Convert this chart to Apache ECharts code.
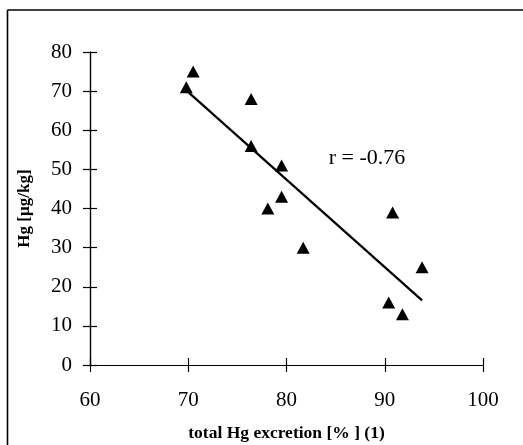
<!DOCTYPE html>
<html>
<head>
<meta charset="utf-8">
<script src="https://cdn.jsdelivr.net/npm/echarts@6/dist/echarts.min.js"></script>
<style>
  html, body { margin: 0; padding: 0; background: #fff; }
  #chart { width: 523px; height: 445px; }
</style>
</head>
<body>
<div id="chart"></div>
<script>
// Total Hg excretion (%) against Hg content (µg/kg)
const excretion = [70.5, 69.8, 76.4, 76.4, 79.5, 79.5, 78.1, 81.7, 90.8, 93.8, 90.4, 91.8];
const hgContent = [75, 71, 68, 56, 51, 43, 40, 30, 39, 25, 16, 13];

// Least-squares fit line, drawn between its two end points
const fitX = [69.8, 93.8];
const fitY = [70.2, 16.5];
const fitLabel = 'r = -0.76';
const fitLabelAt = [88.2, 52.8];

const xTicks = [60, 70, 80, 90, 100];
const yTicks = [0, 10, 20, 30, 40, 50, 60, 70, 80];

const serif = '"Liberation Serif", "Times New Roman", serif';

const points = excretion.map((x, i) => [x, hgContent[i]]);
const fit = fitX.map((x, i) => [x, fitY[i]]);

const axisLine = { show: true, onZero: false, lineStyle: { color: '#000', width: 1.2 } };

function xAxisBase(inside) {
  return {
    type: 'value', position: 'bottom',
    min: xTicks[0], max: xTicks[xTicks.length - 1], interval: 10,
    axisLine: axisLine,
    axisTick: { show: true, inside: inside, length: 7, lineStyle: { color: '#000', width: 1.2 } },
    splitLine: { show: false }
  };
}
function yAxisBase(inside) {
  return {
    type: 'value', position: 'left',
    min: yTicks[0], max: yTicks[yTicks.length - 1], interval: 10,
    axisLine: axisLine,
    axisTick: { show: true, inside: inside, length: 7, lineStyle: { color: '#000', width: 1.2 } },
    splitLine: { show: false }
  };
}

const chart = echarts.init(document.getElementById('chart'), null, { renderer: 'canvas' });
chart.setOption({
  animation: false,
  backgroundColor: '#fff',
  grid: { left: 90, right: 40, top: 52, bottom: 80, containLabel: false, outerBoundsMode: 'none' },
  xAxis: [
    Object.assign(xAxisBase(false), {
      axisLabel: { color: '#000', fontFamily: serif, fontSize: 21, margin: 25 },
      name: 'total Hg excretion [% ] (1)',
      nameLocation: 'middle',
      nameGap: 59,
      nameTextStyle: { color: '#000', fontFamily: serif, fontSize: 17.5, fontWeight: 'bold' }
    }),
    Object.assign(xAxisBase(true), { axisLabel: { show: false } })
  ],
  yAxis: [
    Object.assign(yAxisBase(false), {
      axisLabel: { color: '#000', fontFamily: serif, fontSize: 21, margin: 18 },
      name: 'Hg [µg/kg]',
      nameLocation: 'middle',
      nameGap: 57,
      nameRotate: 90,
      nameTextStyle: { color: '#000', fontFamily: serif, fontSize: 17, fontWeight: 'bold' }
    }),
    Object.assign(yAxisBase(true), { axisLabel: { show: false } })
  ],
  graphic: [
    { type: 'line', shape: { x1: 7.5, y1: 10, x2: 7.5, y2: 445 }, style: { stroke: '#000', lineWidth: 1.6 } },
    { type: 'line', shape: { x1: 7.5, y1: 10, x2: 523, y2: 10 }, style: { stroke: '#000', lineWidth: 1.6 } }
  ],
  series: [
    {
      type: 'line',
      data: fit,
      symbol: 'none',
      lineStyle: { color: '#000', width: 2.2 },
      z: 3,
      markPoint: {
        symbol: 'rect',
        symbolSize: 1,
        itemStyle: { color: 'rgba(0,0,0,0)' },
        data: [{ coord: fitLabelAt }],
        label: { show: true, position: 'inside', formatter: fitLabel, color: '#000', fontFamily: serif, fontSize: 22 }
      }
    },
    {
      type: 'scatter',
      data: points,
      symbol: 'triangle',
      symbolSize: [13, 12],
      itemStyle: { color: '#000', opacity: 1 },
      z: 4
    }
  ]
});
</script>
</body>
</html>
